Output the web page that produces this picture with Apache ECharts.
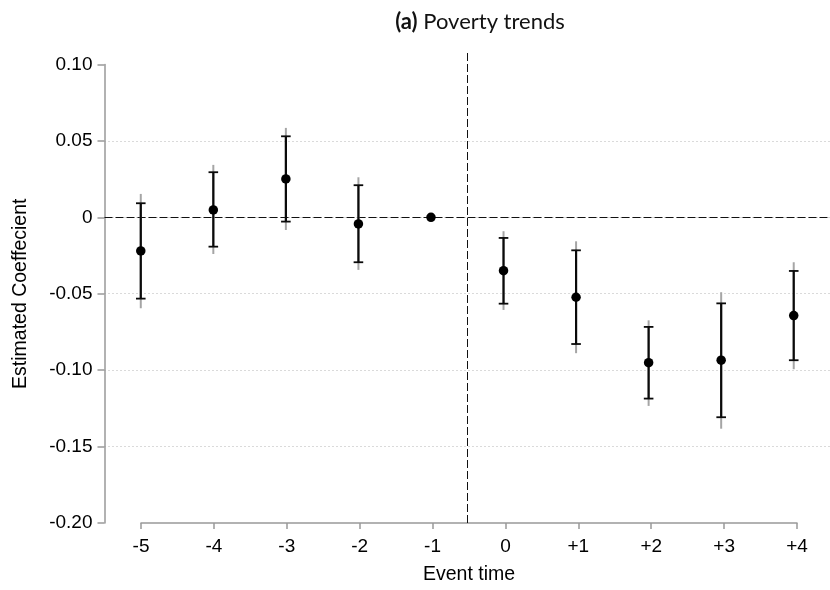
<!DOCTYPE html>
<html>
<head>
<meta charset="utf-8">
<script src="https://cdn.jsdelivr.net/npm/echarts@6/dist/echarts.min.js"></script>
<style>html,body{margin:0;padding:0;background:#fff}#c{width:830px;height:590px}</style>
</head>
<body>
<div id="c"></div>
<script>
// ---- data ----
const eventTime = [-5, -4, -3, -2, -1, 0, 1, 2, 3, 4];
const coef   = [-0.022, 0.0048, 0.0251, -0.0043, 0, -0.0349, -0.0523, -0.0951, -0.0935, -0.0643];
const ci90Lo = [-0.0532, -0.0192, -0.0028, -0.0294, null, -0.0565, -0.0829, -0.1186, -0.1308, -0.0935];
const ci90Hi = [0.0092, 0.0295, 0.053, 0.021, null, -0.0135, -0.0216, -0.0717, -0.0563, -0.0351];
const ci95Lo = [-0.0595, -0.024, -0.0083, -0.0344, null, -0.0606, -0.0889, -0.1234, -0.1383, -0.0994];
const ci95Hi = [0.0153, 0.0343, 0.0585, 0.0262, null, -0.0091, -0.0157, -0.0674, -0.049, -0.0294];
const yTicks = [-0.20, -0.15, -0.10, -0.05, 0, 0.05, 0.10];
const titleLabel = '(a)';
const titleText = 'Poverty trends';
const xTitle = 'Event time';
const yTitle = 'Estimated Coeffecient';

const chart = echarts.init(document.getElementById('c'), null, {renderer: 'canvas'});

const ciData = eventTime.map((t, i) => [t, ci95Lo[i], ci95Hi[i], ci90Lo[i], ci90Hi[i]]);
const ptData = eventTime.map((t, i) => [t, coef[i]]);

const LEFT = 104.5, WIDTH = 729, TOP = 53, HEIGHT = 470;
const yMaxTop = 0.1075;
const pxPerUnit = HEIGHT / (yMaxTop + 0.2);
const topY = TOP + (yMaxTop - 0.1) * pxPerUnit;
const topG = TOP + (yMaxTop - 0.05) * pxPerUnit;
const axisGrey = '#999999';
const font = 'Liberation Sans, Arial, sans-serif';

function fmtY(v) {
  if (Math.abs(v) < 1e-9) return '0';
  return v.toFixed(2);
}

const hidden = {show: false};

const option = {
  animation: false,
  backgroundColor: '#fff',
  graphic: [{
    type: 'text',
    x: 480, y: 22,
    style: {
      text: '{b|' + titleLabel + '} ' + titleText,
      rich: {
        b: {fontFamily: 'Lato', fontWeight: 'bold', fontSize: 22, fill: '#111'}
      },
      align: 'center', verticalAlign: 'middle',
      fontFamily: 'Lato', fontSize: 22, fill: '#111'
    }
  }],
  grid: [
    {left: LEFT, width: WIDTH, top: TOP, height: HEIGHT},
    {left: LEFT, width: WIDTH, top: topY, height: 0.3 * pxPerUnit},
    {left: LEFT, width: WIDTH, top: topG, height: 0.2 * pxPerUnit},
    {left: 141, width: 656, top: TOP, height: HEIGHT}
  ],
  xAxis: [
    {gridIndex: 0, type: 'value', min: -5.5, max: 4.5, show: false},
    {gridIndex: 1, type: 'value', min: 0, max: 1, show: false},
    {gridIndex: 2, type: 'value', min: 0, max: 1, show: false},
    {gridIndex: 3, type: 'value', min: -5, max: 4, interval: 1, position: 'bottom',
      axisLine: {show: true, onZero: false, lineStyle: {color: axisGrey, width: 1.5}},
      axisTick: {show: true, inside: false, length: 6, lineStyle: {color: axisGrey, width: 1.5}},
      axisLabel: {show: true, margin: 14, color: '#000', fontFamily: font, fontSize: 19,
        formatter: v => (v > 0 ? '+' + v : String(v))},
      splitLine: {show: false},
      name: xTitle, nameLocation: 'middle', nameGap: 42,
      nameTextStyle: {color: '#000', fontFamily: font, fontSize: 19.5}
    }
  ],
  yAxis: [
    {gridIndex: 0, type: 'value', min: -0.2, max: yMaxTop, show: false},
    {gridIndex: 1, type: 'value', min: -0.2, max: 0.1, interval: 0.05,
      axisLine: {show: true, lineStyle: {color: axisGrey, width: 1.5}},
      axisTick: {show: true, length: 7, lineStyle: {color: axisGrey, width: 1.5}},
      axisLabel: {show: true, margin: 12, color: '#000', fontFamily: font, fontSize: 19,
        formatter: v => {
          const m = yTicks.find(t => Math.abs(t - v) < 1e-9);
          return m === undefined ? '' : fmtY(m);
        }},
      splitLine: {show: false},
      name: yTitle, nameLocation: 'middle', nameGap: 74, nameRotate: 90,
      nameTextStyle: {color: '#000', fontFamily: font, fontSize: 19.5}
    },
    {gridIndex: 2, type: 'value', min: -0.15, max: 0.05, interval: 0.05,
      axisLine: hidden, axisTick: hidden, axisLabel: hidden,
      splitLine: {show: true, showMinLine: true, showMaxLine: true,
        lineStyle: {color: '#b5b5b5', width: 1, type: [1, 3]}}
    },
    {gridIndex: 3, type: 'value', min: -0.2, max: yMaxTop, show: false}
  ],
  series: [
    {
      type: 'custom',
      xAxisIndex: 0, yAxisIndex: 0,
      z: 3,
      data: ciData,
      renderItem: function (params, api) {
        const x = api.value(0);
        const lo95 = api.value(1), hi95 = api.value(2);
        const lo90 = api.value(3), hi90 = api.value(4);
        if (isNaN(lo95) || isNaN(lo90)) return null;
        const a = api.coord([x, lo95]), b = api.coord([x, hi95]);
        const c = api.coord([x, lo90]), d = api.coord([x, hi90]);
        const cap = 4.8;
        return {
          type: 'group',
          children: [
            {type: 'line', shape: {x1: a[0], y1: a[1], x2: b[0], y2: b[1]},
              style: {stroke: '#a5a5a5', lineWidth: 2}},
            {type: 'line', shape: {x1: c[0], y1: c[1], x2: d[0], y2: d[1]},
              style: {stroke: '#0a0a0a', lineWidth: 2.2}},
            {type: 'line', shape: {x1: c[0] - cap, y1: c[1], x2: c[0] + cap, y2: c[1]},
              style: {stroke: '#0a0a0a', lineWidth: 1.8}},
            {type: 'line', shape: {x1: d[0] - cap, y1: d[1], x2: d[0] + cap, y2: d[1]},
              style: {stroke: '#0a0a0a', lineWidth: 1.8}}
          ]
        };
      }
    },
    {
      type: 'scatter',
      xAxisIndex: 0, yAxisIndex: 0,
      z: 5,
      symbol: 'circle',
      symbolSize: 9.5,
      itemStyle: {color: '#000', opacity: 1},
      data: ptData,
      markLine: {
        silent: true,
        symbol: 'none',
        label: {show: false},
        lineStyle: {color: '#111', width: 1, type: [8, 3]},
        z: 2,
        data: [{xAxis: -0.5}, {yAxis: 0}]
      }
    }
  ]
};
chart.setOption(option);
</script>
</body>
</html>
